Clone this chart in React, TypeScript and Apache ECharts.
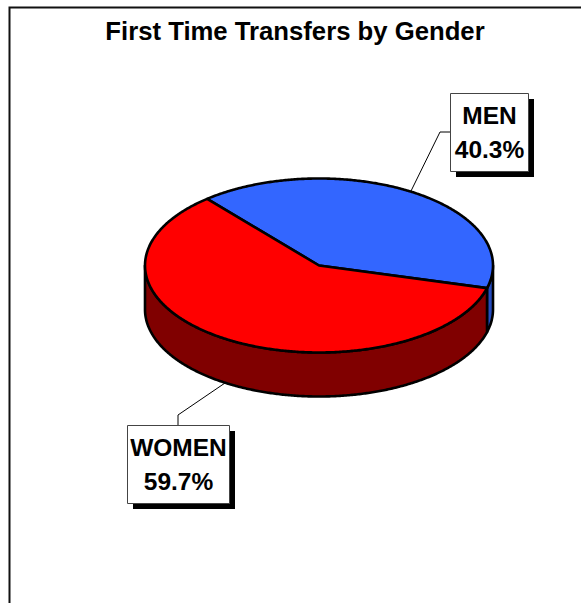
import React, { useEffect, useRef } from "react";
import * as echarts from "echarts";

const categories = ["MEN", "WOMEN"];
const shares = [40.3, 59.7];
const topColors = ["#3366FF", "#FF0000"];
const sideColors = ["#264CBF", "#800000"];
const titleText = "First Time Transfers by Gender";

const FONT = '"Liberation Sans", Arial, sans-serif';
const CX = 319;
const CY = 265.5;
const RX = 174;
const RY = 87;
const DEPTH = 44;
const START_DEG = 130;

const boxes = [
  { x: 450.5, y: 93.5, w: 78, h: 78 },
  { x: 127.5, y: 425.5, w: 102, h: 78 },
];
const leaders = [
  [[411, 191], [440, 132], [450, 132]],
  [[225, 383], [178, 415], [178, 425]],
];

function pt(deg: number, dy = 0): number[] {
  const r = (deg * Math.PI) / 180;
  return [CX + RX * Math.cos(r), CY - RY * Math.sin(r) + dy];
}

function arc(from: number, to: number, dy = 0): number[][] {
  const n = Math.max(2, Math.ceil(Math.abs(to - from) * 2));
  const out: number[][] = [];
  for (let i = 0; i <= n; i++) out.push(pt(from + ((to - from) * i) / n, dy));
  return out;
}

function renderItem(params: any, api: any) {
  const i = params.dataIndex;
  const value = api.value(0);
  const total = shares.reduce((a, b) => a + b, 0);
  const before = shares.slice(0, i).reduce((a, b) => a + b, 0);
  const a0 = START_DEG - (before / total) * 360; // clockwise
  const a1 = a0 - (value / total) * 360;
  const children: any[] = [];

  // visible front wall: the part of the slice within the lower half (-180..0 deg)
  const spans: number[][] = [];
  for (const k of [0, -360]) {
    const hi = Math.min(a0, k);
    const lo = Math.max(a1, k - 180);
    if (hi > lo) spans.push([hi, lo]);
  }
  for (const [hi, lo] of spans) {
    const top = arc(hi, lo);
    const bottom = arc(lo, hi, DEPTH);
    children.push({
      type: "polygon",
      z2: 1,
      shape: { points: [...top, ...bottom] },
      style: { fill: sideColors[i], stroke: "#000", lineWidth: 2.6, lineJoin: "round" },
    });
  }
  children.push({
    type: "polygon",
    z2: 2,
    shape: { points: [[CX, CY], ...arc(a0, a1)] },
    style: { fill: topColors[i], stroke: "#000", lineWidth: 2.6, lineJoin: "round" },
  });

  const b = boxes[i];
  children.push({
    type: "polyline",
    z2: 3,
    shape: { points: leaders[i] },
    style: { fill: "none", stroke: "#000", lineWidth: 1 },
  });
  children.push({
    type: "rect",
    z2: 4,
    shape: { x: b.x + 5.5, y: b.y + 5.5, width: b.w, height: b.h },
    style: { fill: "#000" },
  });
  children.push({
    type: "rect",
    z2: 5,
    shape: { x: b.x, y: b.y, width: b.w, height: b.h },
    style: { fill: "#fff", stroke: "#444", lineWidth: 1 },
  });
  children.push({
    type: "text",
    z2: 6,
    style: {
      x: b.x + b.w / 2,
      y: b.y + b.h / 2,
      text: `${categories[api.value(1)]}\n${value.toFixed(1)}%`,
      fill: "#000",
      font: `bold 24.5px ${FONT}`,
      lineHeight: 34,
      align: "center",
      verticalAlign: "middle",
    },
  });
  return { type: "group", children };
}

export default function App() {
  const ref = useRef<HTMLDivElement>(null);
  useEffect(() => {
    const chart = echarts.init(ref.current!, null, { renderer: "svg" });
    chart.setOption({
      animation: false,
      backgroundColor: "#fff",
      title: {
        text: titleText,
        left: 290,
        top: 13,
        textAlign: "center",
        textStyle: { fontFamily: FONT, fontWeight: "bold", fontSize: 25.7, color: "#000" },
      },
      graphic: [
        {
          type: "polyline",
          shape: { points: [[9.5, 603], [9.5, 7.5], [581, 7.5]] },
          style: { fill: "none", stroke: "#111", lineWidth: 2 },
        },
      ],
      series: [
        {
          type: "custom",
          coordinateSystem: "none",
          renderItem,
          data: shares.map((v, i) => [v, i]),
          animation: false,
        },
      ],
    });
    return () => chart.dispose();
  }, []);
  return (
    <div
      ref={ref}
      style={{ position: "absolute", left: 0, top: 0, width: 581, height: 603 }}
    />
  );
}
